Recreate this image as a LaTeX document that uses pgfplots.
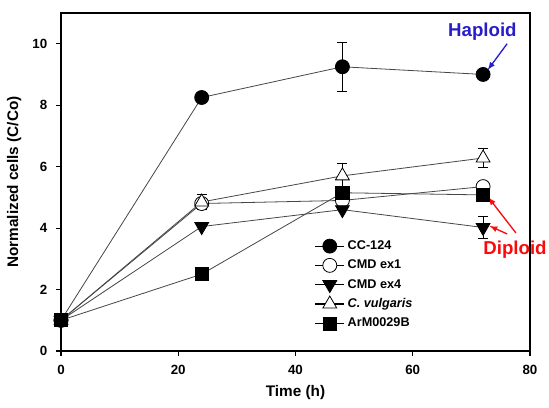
\documentclass[border=0pt]{standalone}
\usepackage{fontspec}
\setmainfont{Liberation Sans}
\usepackage{pgfplots}
\pgfplotsset{compat=1.18}
\definecolor{hapblue}{RGB}{40,30,200}
\definecolor{dipred}{RGB}{250,10,10}
\definecolor{lgray}{RGB}{70,70,70}
\begin{document}
\begin{tikzpicture}
\useasboundingbox (-45.75pt,-42pt) rectangle (366pt,263.25pt);
\begin{axis}[
  at={(0,0)}, anchor=south west,
  scale only axis, width=351.75pt, height=253.5pt,
  xmin=0, xmax=80, ymin=0, ymax=11,
  xtick={0,20,40,60,80}, ytick={0,2,4,6,8,10},
  tick align=outside, xtick pos=bottom, ytick pos=left,
  major tick length=3.75pt,
  axis line style={line width=1pt},
  every tick/.style={black, line width=0.8pt},
  /pgf/number format/assume math mode=true,
  ticklabel style={font=\fontsize{10}{12}\selectfont\bfseries},
  xticklabel style={yshift=-3pt},
  yticklabel style={xshift=-3pt},
  xlabel={Time (h)}, ylabel={Normalized cells (C/Co)},
  label style={font=\fontsize{11.5}{13}\selectfont\bfseries},
  xlabel style={at={(axis description cs:0.5,-0.124)}, anchor=center},
  ylabel style={at={(axis description cs:-0.1,0.5)}, anchor=center},
  legend style={at={(axis description cs:0.54,0.335)}, anchor=north west,
    draw=none, fill=none, font=\fontsize{9.5}{11}\selectfont\bfseries,
    row sep=2.3pt, inner sep=0pt},
  legend cell align=left,
  legend image code/.code={%
    \draw[#1,mark=none,line width=0.9pt,black] (0pt,0pt) -- (22pt,0pt);
    \draw[#1,only marks] plot coordinates {(11pt,0pt)};},
  error bars/error bar style={black, line width=0.6pt},
  error bars/error mark options={rotate=90, mark size=3.75pt, line width=0.6pt},
  clip=false,
]
% CC-124
\addplot[lgray, line width=0.6pt, mark=*, mark size=5.25pt, mark options={fill=black, draw=black},
  error bars/.cd, y dir=both, y explicit]
  coordinates {(0,1) +- (0,0) (24,8.25) +- (0,0) (48,9.25) +- (0,0.8) (72,9.0) +- (0,0)};
\addlegendentry{CC-124}
% CMD ex1
\addplot[lgray, line width=0.6pt, mark=*, mark size=5.25pt, mark options={fill=white, draw=black, line width=0.6pt},
  error bars/.cd, y dir=both, y explicit]
  coordinates {(0,1) +- (0,0) (24,4.8) +- (0,0.1) (48,4.9) +- (0,0.15) (72,5.35) +- (0,0.1)};
\addlegendentry{CMD ex1}
% CMD ex4
\addplot[lgray, line width=0.6pt, mark=triangle*, mark size=6pt, mark options={rotate=180, fill=black, draw=black},
  error bars/.cd, y dir=both, y explicit]
  coordinates {(0,1) +- (0,0) (24,4.05) +- (0,0) (48,4.6) +- (0,0) (72,4.02) +- (0,0.35)};
\addlegendentry{CMD ex4}
% C. vulgaris
\addplot[lgray, line width=0.6pt, mark=triangle*, mark size=6pt, mark options={fill=white, draw=black, line width=0.6pt},
  error bars/.cd, y dir=both, y explicit]
  coordinates {(0,1) +- (0,0) (24,4.85) +- (0,0.25) (48,5.7) +- (0,0.4) (72,6.28) +- (0,0.3)};
\addlegendentry{\textit{C. vulgaris}}
% ArM0029B
\addplot[lgray, line width=0.6pt, mark=square*, mark size=4.9pt, mark options={fill=black, draw=black},
  error bars/.cd, y dir=both, y explicit]
  coordinates {(0,1) +- (0,0) (24,2.5) +- (0,0) (48,5.15) +- (0,0.2) (72,5.08) +- (0,0.2)};
\addlegendentry{ArM0029B}
% annotations
\node[anchor=west, text=hapblue, font=\fontsize{14}{16}\selectfont\bfseries, inner sep=0pt] at (axis cs:66.0,10.39) {Haploid};
\draw[-latex, hapblue, line width=1pt] (axis cs:76.1,10.0) -- (axis cs:72.8,9.15);
\node[anchor=west, text=dipred, font=\fontsize{14}{16}\selectfont\bfseries, inner sep=0pt] at (axis cs:72.0,3.29) {Diploid};
\draw[-latex, dipred, line width=1pt] (axis cs:77.6,3.84) -- (axis cs:72.9,5.0);
\draw[-latex, dipred, line width=1pt] (axis cs:76.1,3.81) -- (axis cs:73.1,4.07);
\end{axis}
\end{tikzpicture}
\end{document}
